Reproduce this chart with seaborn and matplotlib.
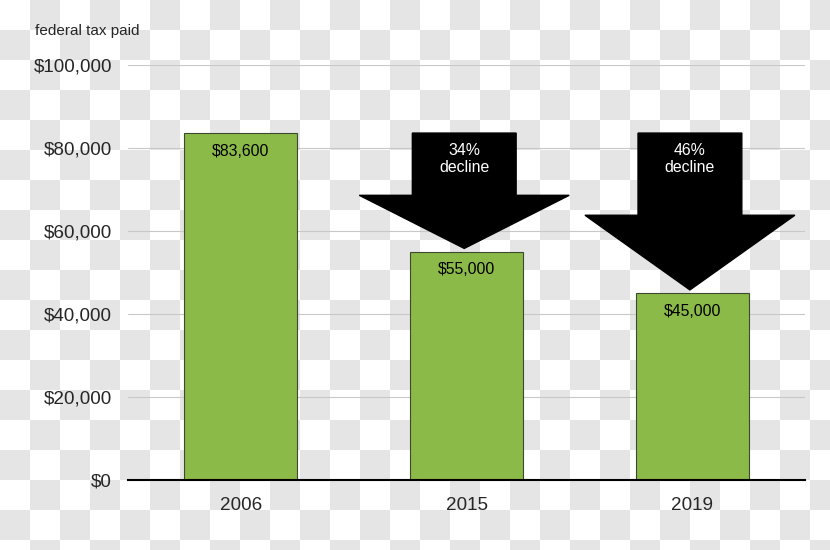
import matplotlib.pyplot as plt
import numpy as np
import seaborn as sns
from matplotlib.patches import FancyArrow

years = ["2006", "2015", "2019"]
tax_paid = [83600, 55000, 45000]
bar_labels = ["$83,600", "$55,000", "$45,000"]
declines = ["", "34%\ndecline", "46%\ndecline"]
head_lengths = [0, 12800, 18000]
yticks = [0, 20000, 40000, 60000, 80000, 100000]

sns.set_style("white")
plt.rcParams["font.family"] = ["Liberation Sans", "DejaVu Sans"]

fig = plt.figure(figsize=(8.3, 5.5), dpi=100)

# checkerboard backdrop (transparent-png look)
rows, cols = np.indices((550, 830))
board = np.where(((rows // 30) + (cols // 30)) % 2 == 1, 229, 255).astype(np.uint8)
bg = fig.figimage(np.dstack([board] * 3), xo=0, yo=0, origin="upper")
bg.set_zorder(-1)

ax = fig.add_axes([0.1542, 0.1273, 0.8157, 0.7545])
ax.patch.set_alpha(0)

sns.barplot(
    x=years, y=tax_paid, ax=ax, color="#8bba48", saturation=1,
    width=0.5, edgecolor="#3d4a30", linewidth=0.8, zorder=2,
)

ax.set_ylim(0, 100000)
ax.set_xlim(-0.5, 2.5)
ax.set_yticks(yticks)
ax.set_yticklabels([f"${v:,}" for v in yticks])
ax.yaxis.grid(True, color="#c8c8c8", linewidth=0.8)
ax.set_axisbelow(True)
ax.tick_params(axis="both", length=0, labelsize=13.6)
ax.tick_params(axis="y", pad=11.5)
ax.tick_params(axis="x", pad=12)
ax.set_xlabel("")
ax.set_ylabel("")
for s in ["top", "right", "left"]:
    ax.spines[s].set_visible(False)
ax.spines["bottom"].set_color("black")
ax.spines["bottom"].set_linewidth(1.5)
ax.spines["bottom"].set_zorder(3)

for i, (v, lab) in enumerate(zip(tax_paid, bar_labels)):
    ax.annotate(lab, (i, v), xytext=(0, -18), textcoords="offset pixels",
                ha="center", va="center", fontsize=11.4, color="black", zorder=4)

# decline arrows from the 2006 level down to each later bar
start = tax_paid[0]
for i in range(1, len(years)):
    tip = tax_paid[i] + 800
    arrow = FancyArrow(
        i - 0.01, start, 0, tip - start, width=0.46, head_width=0.93,
        head_length=head_lengths[i], length_includes_head=True,
        color="black", zorder=5,
    )
    ax.add_patch(arrow)
    ax.annotate(declines[i], (i - 0.01, start), xytext=(0, -10),
                textcoords="offset pixels", ha="center", va="top",
                fontsize=11.4, color="white", zorder=6, linespacing=1.15)

fig.text(35 / 830, 1 - 31 / 550, "federal tax paid", ha="left", va="center",
         fontsize=11)

fig.savefig("out.png", dpi=100)
